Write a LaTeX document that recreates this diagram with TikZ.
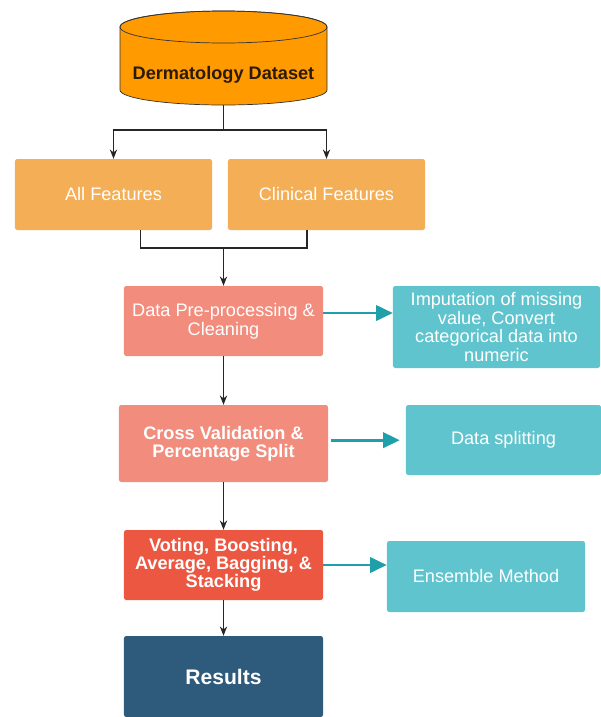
\documentclass[tikz,border=0pt]{standalone}
\usepackage{fontspec}
\setmainfont{Liberation Sans}
\usetikzlibrary{arrows.meta}
\definecolor{dataorange}{HTML}{FF9A00}
\definecolor{featorange}{HTML}{F4AE55}
\definecolor{prepsalmon}{HTML}{F28C7C}
\definecolor{ensred}{HTML}{EB5741}
\definecolor{resblue}{HTML}{2E5A7C}
\definecolor{sideteal}{HTML}{5FC4CD}
\definecolor{arrowteal}{HTML}{1E9FAA}
\definecolor{datatext}{HTML}{2B1A05}
\begin{document}
\begin{tikzpicture}[x=0.03cm,y=-0.03cm,
  box/.style={rounded corners=2pt, inner sep=0pt, align=center, text=white,
    font=\fontsize{15.5}{16.2}\selectfont},
  boldbox/.style={box, font=\bfseries\fontsize{15.5}{15.6}\selectfont},
  flow/.style={draw=black!85, line width=0.9pt, -{Stealth[length=2.8mm,width=2.2mm]}},
  sidearrow/.style={draw=arrowteal, line width=2.3pt, -{Triangle[length=5mm,width=4.6mm]}}]
\useasboundingbox (0,0) rectangle (601,717);

% dataset cylinder
\path[draw=black!80, line width=0.6pt, fill=dataorange] (120,27) -- (120,90)
  arc[start angle=180, end angle=360, x radius=3.105cm, y radius=0.45cm] -- (327,27)
  arc[start angle=0, end angle=180, x radius=3.105cm, y radius=0.48cm] -- cycle;
\path[draw=black!80, line width=0.6pt] (223.5,27) ellipse[x radius=3.105cm, y radius=0.48cm];
\node[inner sep=0pt, minimum width=6.21cm, minimum height=2.7cm,
  label={[font=\bfseries\fontsize{15.5}{17}\selectfont, text=datatext, yshift=-0.45cm]center:Dermatology Dataset}] (data) at (223.5,60) {};

\node[box, fill=featorange, minimum width=5.91cm, minimum height=2.13cm] (allf) at (113.5,194.5) {All Features};
\node[box, fill=featorange, minimum width=5.91cm, minimum height=2.13cm] (clin) at (326.5,194.5) {Clinical Features};

\node[box, fill=prepsalmon, minimum width=5.97cm, minimum height=2.1cm] (prep) at (223.5,321) {Data Pre-processing \&\\Cleaning};
\node[box, fill=sideteal, minimum width=6.21cm, minimum height=2.46cm] (imput) at (496.5,327) {Imputation of missing\\value, Convert\\categorical data into\\numeric};

\node[boldbox, fill=prepsalmon, minimum width=6.27cm, minimum height=2.31cm] (cross) at (223.5,443.5) {Cross Validation \&\\Percentage Split};
\node[box, fill=sideteal, minimum width=5.85cm, minimum height=2.1cm] (split) at (503.5,440) {Data splitting};

\node[boldbox, fill=ensred, minimum width=5.97cm, minimum height=2.1cm] (vote) at (223.5,565) {Voting, Boosting,\\Average, Bagging, \&\\Stacking};
\node[box, fill=sideteal, minimum width=5.94cm, minimum height=2.13cm] (ens) at (486,576.5) {Ensemble Method};

\node[box, fill=resblue, minimum width=5.97cm, minimum height=2.43cm, font=\bfseries\fontsize{18}{20}\selectfont] (res) at (223.5,676.5) {Results};

% split and merge
\coordinate (fork) at (223.5,130);
\coordinate (merge) at (223.5,248);
\path[draw,line width=0.9pt,black!85] (data.south) -- (fork);
\path[flow] (fork) -| (allf.north);
\path[flow] (fork) -| (clin.north);
\path[draw,line width=0.9pt,black!85] ([xshift=0.8cm]allf.south) |- (merge);
\path[draw,line width=0.9pt,black!85] ([xshift=-0.585cm]clin.south) |- (merge);
\path[flow] (merge) -- (prep.north);

\path[flow] (prep) -- (cross);
\path[flow] (cross) -- (vote);
\path[flow] (vote) -- (res);

\path[sidearrow] ([yshift=0.24cm]prep.east) -- ([yshift=0.24cm]prep.east -| imput.west);
\path[sidearrow, shorten <=0.09cm, shorten >=0.18cm] ([yshift=0.1cm]cross.east) -- ([yshift=0.1cm]cross.east -| split.west);
\path[sidearrow] (vote.east) -- (vote.east -| ens.west);
\end{tikzpicture}
\end{document}
